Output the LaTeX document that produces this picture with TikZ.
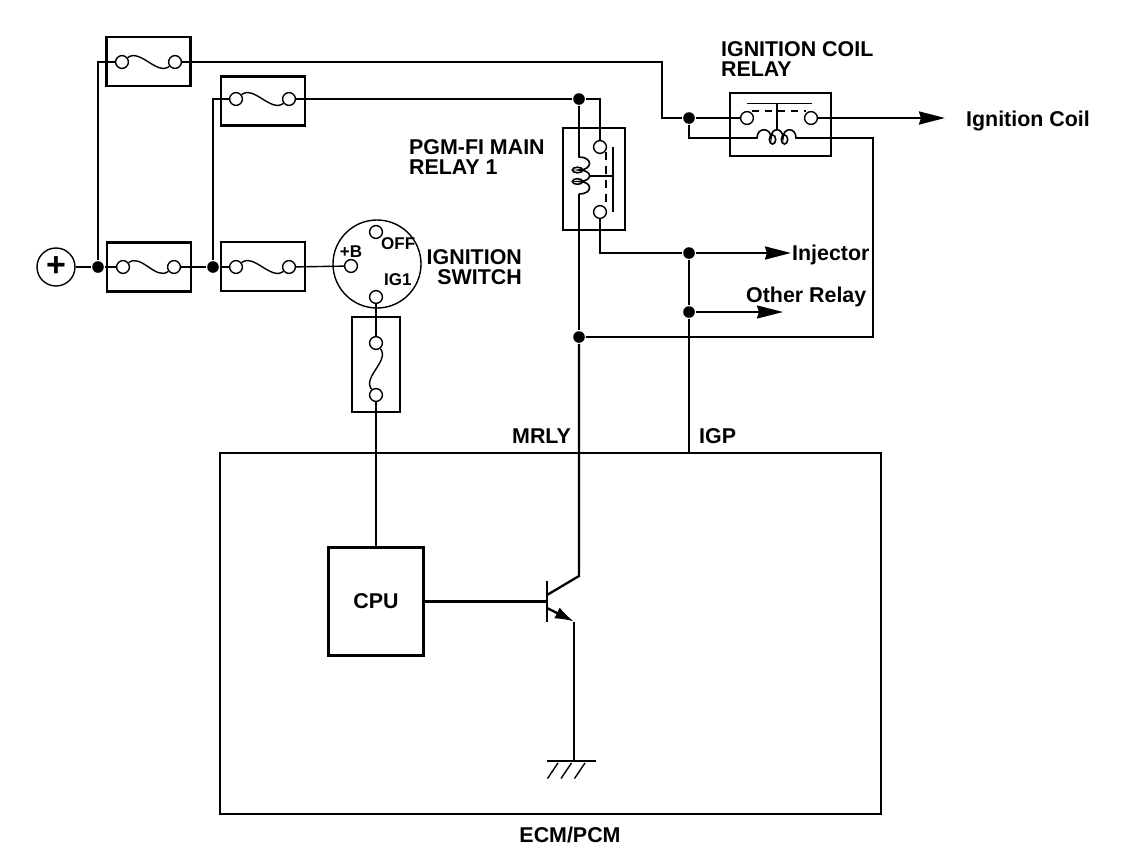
\documentclass[tikz,border=0pt]{standalone}
\usepackage{fontspec}
\setmainfont{Liberation Sans}
\usetikzlibrary{arrows.meta}
\begin{document}
\begin{tikzpicture}[x=0.5pt,y=-0.5pt,line width=1.15pt,
 lbl/.style={font=\bfseries\fontsize{10.7}{10.4}\selectfont,inner sep=0pt},
 sml/.style={font=\bfseries\fontsize{8.5}{9}\selectfont,inner sep=0pt},
 term/.style={circle,draw,line width=0.7pt,fill=white,minimum size=6.4pt,inner sep=0pt},
 jdot/.style={circle,fill,minimum size=5.8pt,inner sep=0pt},
 fusebox/.style={draw,minimum width=42pt,minimum height=24.5pt,inner sep=0pt},
 feed/.style={line width=0.7pt},
 inner/.style={line width=0.8pt},
 arr/.style={-{Stealth[length=13pt,width=6.5pt,inset=1pt]}}]
 \useasboundingbox (0,0) rectangle (1136,868);
 \node[draw,circle,line width=0.7pt,minimum size=19pt,inner sep=0pt,font=\bfseries\fontsize{17}{17}\selectfont] (batt) at (56,267) {+};
 \node[jdot] (d1) at (98,267) {};
 \node[jdot] (d2) at (213,267) {};
 \node[fusebox] (fb1) at (148.5,61.5) {};
 \node[term] (f1a) at (122,62) {};
 \node[term] (f1b) at (175,62) {};
 \node[fusebox] (fb2) at (263,101) {};
 \node[term] (f2a) at (236,99) {};
 \node[term] (f2b) at (289,99) {};
 \node[fusebox] (fb3) at (149,267) {};
 \node[term] (f3a) at (123,267) {};
 \node[term] (f3b) at (174,267) {};
 \node[fusebox] (fb4) at (263,266.5) {};
 \node[term] (f4a) at (236,267) {};
 \node[term] (f4b) at (289,267) {};
 \node[draw,minimum width=24pt,minimum height=47.5pt,inner sep=0pt] (fb5) at (376,364.5) {};
 \node[term] (f5a) at (376,343) {};
 \node[term] (f5b) at (376,395) {};
 \node[circle,draw,line width=0.7pt,minimum size=44pt,inner sep=0pt] (ksw) at (377,264) {};
 \node[term] (sb) at (351,266) {};
 \node[term] (soff) at (376,232) {};
 \node[term] (sig) at (376,297) {};
 \node[sml,anchor=base] at (351,257) {+B};
 \node[sml,anchor=base west] at (380,249) {OFF};
 \node[sml,anchor=base west] at (383,285) {IG1};
 \node[lbl,align=right,anchor=north east] at (523,248) {IGNITION\\SWITCH};
 \node[draw,minimum width=31pt,minimum height=51pt,inner sep=0pt] (mrel) at (594,179) {};
 \node[term] (r1a) at (600,147) {};
 \node[term] (r1b) at (600,212) {};
 \node[lbl,align=left,anchor=north west] at (408,138) {PGM-FI MAIN\\RELAY 1};
 \node[draw,minimum width=50.5pt,minimum height=31.5pt,inner sep=0pt] (icrel) at (780.5,124.5) {};
 \node[term] (ic1) at (747,118) {};
 \node[term] (ic2) at (811,118) {};
 \node[lbl,align=left,anchor=north west] at (720,40) {IGNITION COIL\\RELAY};
 \node[jdot] (d3) at (579,99) {};
 \node[jdot] (d4) at (689,118) {};
 \node[jdot] (d5) at (689,253) {};
 \node[jdot] (d6) at (579,337) {};
 \node[jdot] (d7) at (689,312) {};
 \node[draw,minimum width=330.5pt,minimum height=180.5pt,inner sep=0pt] (ecm) at (550.5,633.5) {};
 \node[lbl,anchor=base] at (570,842) {ECM/PCM};
 \node[draw,lbl,minimum width=47.5pt,minimum height=54pt] (cpu) at (376,601.5) {CPU};
 \node[lbl,anchor=base east] at (572,443) {MRLY};
 \node[lbl,anchor=base west] at (698,443) {IGP};
 \node[lbl,anchor=base west] (injl) at (791,260) {Injector};
 \node[lbl,anchor=base west] at (745,302) {Other Relay};
 \node[lbl,anchor=base west] at (965,126) {Ignition Coil};
 \coordinate (k1) at (662,118);
 \coordinate (oth) at (783,312);
 \coordinate (igc) at (945,118);
 \coordinate (tc) at (579,576);
 \coordinate (tb) at (547,601.5);
 \coordinate (te) at (574,621.5);
 \coordinate (gnd) at (574,761);
 \draw[feed] (batt) -- (d1);
 \draw[feed] (d1) -- (f3a);
 \draw[feed] (f3b) -- (d2);
 \draw[feed] (d2) -- (f4a);
 \draw[feed] (f4b) -- (sb);
 \draw (d1) |- (f1a);
 \draw (d2) |- (f2a);
 \draw[feed] (f1a) .. controls +(18,-14) and +(-18,14) .. (f1b);
 \draw[feed] (f2a) .. controls +(18,-14) and +(-18,14) .. (f2b);
 \draw[feed] (f3a) .. controls +(18,-14) and +(-18,14) .. (f3b);
 \draw[feed] (f4a) .. controls +(18,-14) and +(-18,14) .. (f4b);
 \draw[feed] (f5a) .. controls +(14,18) and +(-14,-18) .. (f5b);
 \draw (sig) -- (f5a);
 \draw (f5b) -- (cpu.north);
 \draw (f1b) -| (k1) -- (d4);
 \draw (f2b) -- (d3);
 \draw (d3) -| (r1a);
 \draw[inner] (d3) -- (579,157) .. controls (593,157) and (593,170) .. (579,170) .. controls (593,170) and (593,181.5) .. (579,181.5) .. controls (593,181.5) and (593,194) .. (579,194);
 \draw (579,194) -- (d6);
 \draw[inner] (577.5,170) ellipse [x radius=2.6pt,y radius=1.4pt];
 \draw[inner] (577.5,181.5) ellipse [x radius=2.6pt,y radius=1.4pt];
 \draw[inner] (589.5,175.75) -- (613,175.75);
 \draw[inner] (613,147) -- (613,212);
 \draw[inner,dash pattern=on 4pt off 3pt] (606,152) -- (606,207);
 \draw (r1b) |- (d5);
 \draw[arr] (d5) -- (d5 -| injl.west);
 \draw (d5) -- (d7);
 \draw[feed,arr] (d7) -- (oth);
 \draw (d7) -- (d7 |- ecm.north);
 \draw (d4) -- (ic1);
 \draw[arr] (ic2) -- (igc);
 \draw[inner] (747,103.3) -- (811.7,103.3);
 \draw[inner] (776.7,103.3) -- (776.7,130);
 \draw[inner,dash pattern=on 3.5pt off 3pt] (752,111) -- (806,111);
 \draw[inner] (d4) |- (757,138) .. controls (757,127) and (771,127) .. (771,138) .. controls (771,127) and (783,127) .. (783,138) .. controls (783,127) and (796,127) .. (796,138) -- (873,138) |- (d6);
 \draw[inner] (772.5,139.5) ellipse [x radius=1.6pt,y radius=2.3pt];
 \draw[inner] (784.5,139.5) ellipse [x radius=1.6pt,y radius=2.3pt];
 \draw (d6) -- (tc) -- (547,595);
 \draw[feed] (547,581) -- (547,622);
 \draw (cpu.east) -- (tb);
 \draw[-{Latex[length=9.5pt,width=6pt]}] (547,608) -- (te);
 \draw (te) -- (gnd);
 \draw (547,761) -- (596,761);
 \foreach \gx in {558,571.5,585} \draw[feed] (\gx,763) -- ++(-10.5,15.5);
\end{tikzpicture}
\end{document}
